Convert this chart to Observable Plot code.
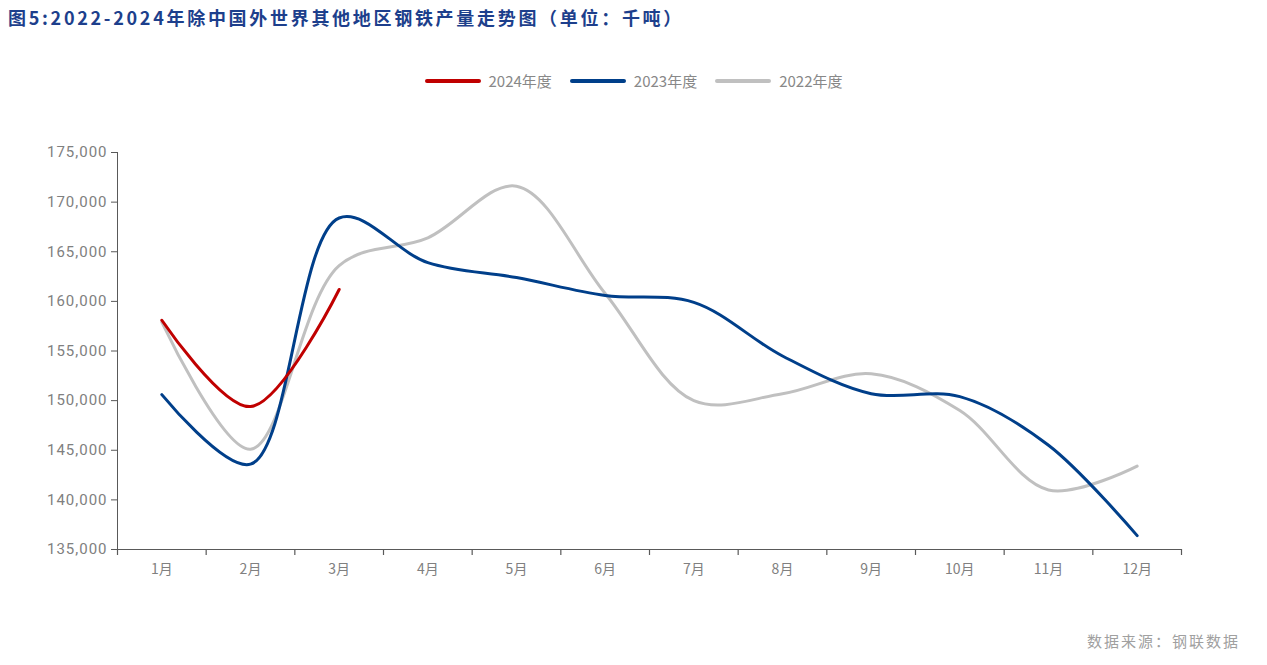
<!DOCTYPE html>
<html>
<head>
<meta charset="utf-8">
<script src="https://cdn.jsdelivr.net/npm/d3@7"></script>
<script src="https://cdn.jsdelivr.net/npm/@observablehq/plot@0.6"></script>
<style>
  html, body { margin: 0; padding: 0; background: #fff; }
  #wrap { position: relative; width: 1267px; height: 665px; overflow: hidden; font-family: "Noto Sans CJK SC", "Noto Sans", sans-serif; }
  #title { position: absolute; left: 8px; top: 4px; font-size: 18px; font-weight: bold; color: #1d3f8c; letter-spacing: 2.7px; white-space: nowrap; }
  #legend { position: absolute; top: 70px; left: 0; width: 1267px; display: flex; justify-content: center; gap: 18px; font-size: 15px; color: #888; }
  .item { display: flex; align-items: center; gap: 8px; }
  .sw { width: 56px; height: 4px; border-radius: 2px; }
  #caption { position: absolute; right: 27px; top: 630px; font-size: 15px; color: #a0a0a0; letter-spacing: 2px; }
  #chart { position: absolute; left: 0; top: 0; }
  #chart g[aria-label="y-axis tick label"] text { letter-spacing: 1px; }
</style>
</head>
<body>
<div id="wrap">
  <div id="chart"></div>
  <div id="title">图5:2022-2024年除中国外世界其他地区钢铁产量走势图（单位：千吨）</div>
  <div id="legend"></div>
  <div id="caption">数据来源：钢联数据</div>
</div>
<script>
const months = ["1月","2月","3月","4月","5月","6月","7月","8月","9月","10月","11月","12月"];
const series = ["2024年度","2023年度","2022年度"];
const colors = ["#c00000","#003f8a","#c0c0c0"];
const v2024 = [158100, 149400, 161200];
const v2023 = [150600, 143600, 168400, 163900, 162400, 160600, 159900, 154500, 150700, 150400, 145500, 136400];
const v2022 = [157900, 145100, 163600, 166400, 171600, 160800, 150000, 150700, 152700, 149000, 141000, 143400];
const yTicks = [135000, 140000, 145000, 150000, 155000, 160000, 165000, 170000, 175000];

const toRows = (vals, s) => vals.map((v, i) => ({month: i + 1, value: v, series: s}));
const rows = [...toRows(v2022, series[2]), ...toRows(v2023, series[1]), ...toRows(v2024, series[0])];
const boundaries = d3.range(0, months.length + 1).map(i => i + 0.5);

// legend
const lg = document.getElementById("legend");
series.forEach((s, i) => {
  const it = document.createElement("div");
  it.className = "item";
  it.innerHTML = `<div class="sw" style="background:${colors[i]}"></div><span>${s}</span>`;
  lg.appendChild(it);
});

const axisColor = "#595959";
const plot = Plot.plot({
  width: 1267,
  height: 665,
  marginTop: 152,
  marginBottom: 116,
  marginLeft: 117,
  marginRight: 86,
  style: {fontFamily: "Roboto, 'Noto Sans', sans-serif", fontSize: "14px", color: "#808080", background: "transparent"},
  x: {domain: [0.5, months.length + 0.5], label: null},
  y: {domain: [135000, 175000], label: null},
  color: {domain: series, range: colors},
  marks: [
    Plot.line(rows, {x: "month", y: "value", stroke: "series", z: "series", curve: "catmull-rom", strokeWidth: 3}),
    Plot.ruleY([135000], {stroke: axisColor, strokeWidth: 1}),
    Plot.ruleX([0.5], {stroke: axisColor, strokeWidth: 1}),
    Plot.axisX(boundaries, {tickSize: 6, tickFormat: () => "", stroke: axisColor, strokeWidth: 1.2, label: null}),
    Plot.axisX(d3.range(1, 13), {tickSize: 0, tickPadding: 15, tickFormat: d => months[d - 1], fill: "#808080", fontSize: 14, fontFamily: "Noto Sans CJK SC, sans-serif", label: null}),
    Plot.axisY(yTicks, {tickSize: 6, tickPadding: 4, tickFormat: d3.format(","), stroke: axisColor, fill: "#808080", fontSize: 15, label: null})
  ]
});
document.getElementById("chart").appendChild(plot);
</script>
</body>
</html>
